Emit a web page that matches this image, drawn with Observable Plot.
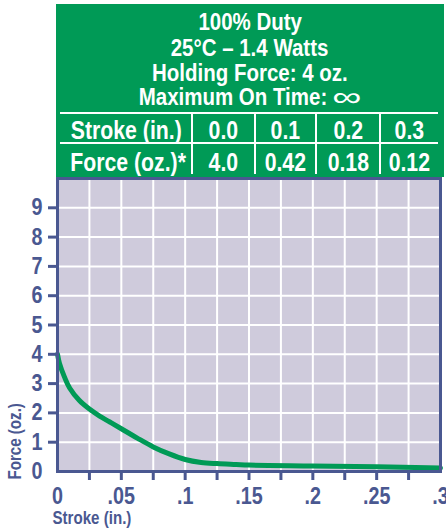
<!DOCTYPE html>
<html>
<head>
<meta charset="utf-8">
<script src="https://cdn.jsdelivr.net/npm/d3@7"></script>
<script src="https://cdn.jsdelivr.net/npm/@observablehq/plot@0.6"></script>
<style>
  html, body { margin: 0; padding: 0; background: #fff; }
  #wrap { position: relative; width: 446px; height: 531px; overflow: hidden; }
  .cond { font-family: 'Liberation Sans', Arial, sans-serif; font-weight: bold; }
  #hdr { position: absolute; left: 56px; top: 4px; width: 388px; height: 173px; background: #009a56; color: #fff; }
  .ln { position: absolute; left: 0; width: 100%; text-align: center; font-size: 23px; line-height: 22px; height: 22px; white-space: nowrap; }
  .ln span.s { display: inline-block; transform: scaleX(0.89); }
  .cell span.s { display: inline-block; transform: scaleX(0.85); }
  .inf { display: inline-block; font-size: 27px; font-weight: normal; line-height: 16px; transform: scaleX(1.7); margin: 0 7px 0 6px; vertical-align: -1px; }
  .hl { position: absolute; background: #fff; }
  .cell { position: absolute; text-align: center; font-size: 25px; line-height: 28px; height: 28px; white-space: nowrap; }
  #chart { position: absolute; left: 0; top: 176px; }
</style>
</head>
<body>
<div id="wrap">
  <div id="hdr" class="cond"></div>
  <div id="chart"></div>
</div>
<script>
// ---- data ----
const titleLines = ["100% Duty", "25°C – 1.4 Watts", "Holding Force: 4 oz.", "Maximum On Time: "];
const infinitySymbol = "∞";
const tableHeaders = ["Stroke (in.)", "Force (oz.)*"];
const tableStroke = ["0.0", "0.1", "0.2", "0.3"];
const tableForce = ["4.0", "0.42", "0.18", "0.12"];

const strokeIn = [0, 0.0015, 0.0055, 0.0095, 0.017, 0.025, 0.033, 0.041, 0.05, 0.0625, 0.075, 0.0875, 0.1, 0.1125, 0.125, 0.14, 0.15, 0.2, 0.25, 0.3];
const forceOz  = [4.0, 3.7, 3.22, 2.85, 2.43, 2.13, 1.89, 1.69, 1.46, 1.14, 0.84, 0.6, 0.41, 0.31, 0.27, 0.24, 0.22, 0.19, 0.16, 0.12];

const xTicks = [0, 0.025, 0.05, 0.075, 0.1, 0.125, 0.15, 0.175, 0.2, 0.225, 0.25, 0.275, 0.3];
const xTickLabels = ["0", "", ".05", "", ".1", "", ".15", "", ".2", "", ".25", "", ".3"];
const yTicks = [0, 1, 2, 3, 4, 5, 6, 7, 8, 9];
const yTickLabels = ["0", "1", "2", "3", "4", "5", "6", "7", "8", "9"];
const xLabel = "Stroke (in.)";
const yLabel = "Force (oz.)";

// ---- header ----
const hdr = document.getElementById("hdr");
const lineCenters = [18, 44, 69, 93];
titleLines.forEach((t, i) => {
  const d = document.createElement("div");
  d.className = "ln";
  d.style.top = (lineCenters[i] - 11) + "px";
  const s = document.createElement("span");
  s.className = "s";
  s.textContent = t;
  if (i === titleLines.length - 1) {
    const inf = document.createElement("span");
    inf.className = "inf";
    inf.textContent = infinitySymbol;
    s.appendChild(inf);
  }
  d.appendChild(s);
  hdr.appendChild(d);
});
function rect(l, t, w, h) {
  const d = document.createElement("div");
  d.className = "hl";
  Object.assign(d.style, {left: l + "px", top: t + "px", width: w + "px", height: h + "px"});
  hdr.appendChild(d);
}
rect(4, 108, 378, 2);
rect(4, 138, 378, 2);
const colEdges = [4, 136, 199, 260, 324, 382];
[136, 199, 260, 324].forEach(x => rect(x - 1, 108, 2, 62));
const rows = [[tableHeaders[0], ...tableStroke], [tableHeaders[1], ...tableForce]];
const rowCenters = [125.5, 157.7];
rows.forEach((r, ri) => {
  r.forEach((t, ci) => {
    const d = document.createElement("div");
    d.className = "cell";
    d.style.left = colEdges[ci] + "px";
    d.style.width = (colEdges[ci + 1] - colEdges[ci]) + "px";
    d.style.top = (rowCenters[ri] - 14) + "px";
    const s = document.createElement("span");
    s.className = "s";
    s.textContent = t;
    d.appendChild(s);
    hdr.appendChild(d);
  });
});

// ---- chart ----
const data = strokeIn.map((s, i) => ({s, f: forceOz[i]}));
const blue = "#4a5891";
const font = "'Liberation Sans', Arial, sans-serif";

const chart = Plot.plot({
  width: 446,
  height: 355,
  marginLeft: 57,
  marginRight: 6,
  marginTop: 2,
  marginBottom: 60,
  style: {fontFamily: font, fontWeight: "bold", color: blue, background: "transparent"},
  x: {domain: [0, 0.3], label: null},
  y: {domain: [0, 10], label: null},
  marks: [
    Plot.frame({fill: "#cfcbdc"}),
    Plot.gridX(xTicks.slice(1, -1), {stroke: "#fff", strokeOpacity: 1, strokeWidth: 2}),
    Plot.gridY(yTicks.slice(1), {stroke: "#fff", strokeOpacity: 1, strokeWidth: 2}),
    Plot.line(data, {x: "s", y: "f", stroke: "#009a56", strokeWidth: 5, curve: "catmull-rom"}),
    Plot.frame({stroke: blue, strokeWidth: 3}),
    Plot.axisX(xTicks.slice(1, -1), {tickSize: 9, stroke: blue, strokeWidth: 3, tickFormat: () => "", label: null}),
    Plot.axisX(xTicks, {tickSize: 0, tickPadding: 16, fontSize: 23.5, fill: blue,
      tickFormat: d => xTickLabels[xTicks.indexOf(d)], label: null}),
    Plot.axisY(yTicks.slice(1), {tickSize: 9, stroke: blue, strokeWidth: 3, tickFormat: () => "", label: null}),
    Plot.axisY(yTicks, {tickSize: 0, tickPadding: 15, fontSize: 23.5, fill: blue,
      tickFormat: d => yTickLabels[yTicks.indexOf(d)], label: null}),
    Plot.text([xLabel], {text: d => d, frameAnchor: "bottom-left", textAnchor: "start", lineAnchor: "middle",
      dx: -5, dy: 47, fontSize: 18, fill: blue}),
    Plot.text([yLabel], {text: d => d, frameAnchor: "bottom-left", textAnchor: "start", lineAnchor: "middle",
      rotate: -90, dx: -42.5, dy: 8, fontSize: 18, fill: blue})
  ]
});
// condense glyphs horizontally (the original uses a condensed face)
chart.querySelectorAll("text").forEach(el => {
  const t = el.getAttribute("transform");
  if (t) {
    el.setAttribute("transform", t + " scale(0.84,1)");
  } else {
    const x = el.getAttribute("x") || 0, y = el.getAttribute("y") || 0;
    el.removeAttribute("x"); el.removeAttribute("y");
    el.setAttribute("transform", `translate(${x},${y}) scale(0.84,1)`);
  }
});
document.getElementById("chart").appendChild(chart);
</script>
</body>
</html>
